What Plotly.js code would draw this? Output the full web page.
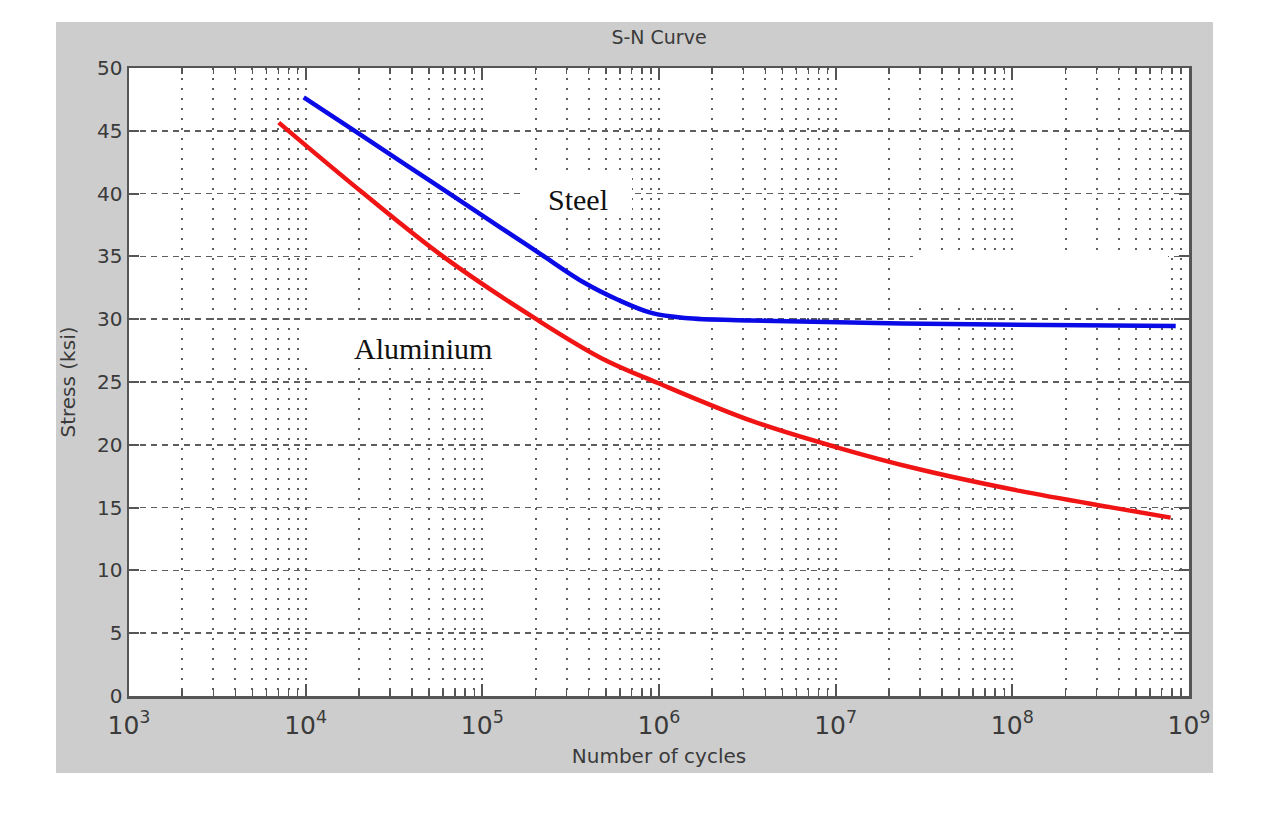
<!DOCTYPE html>
<html>
<head>
<meta charset="utf-8">
<script src="https://cdn.plot.ly/plotly-3.0.1.min.js"></script>
<style>
  html, body { margin: 0; padding: 0; background: #ffffff; }
  #plot { position: absolute; left: 56px; top: 22px; width: 1157px; height: 751px; }
</style>
</head>
<body>
<div id="plot"></div>
<script>
// Steel S-N curve (cycles, stress in ksi)
const steelCycles = [9.75e3, 2.05e4, 5.12e4, 1.28e5, 2.15e5, 3.78e5, 5.89e5, 9.06e5, 1.40e6, 3.35e6, 2.38e7, 8.41e8];
const steelStress = [47.66, 44.68, 40.97, 37.26, 35.16, 32.9, 31.53, 30.5, 30.1, 29.9, 29.65, 29.45];

// Aluminium S-N curve
const aluCycles = [7.04e3, 2.13e4, 5.98e4, 2.02e5, 4.72e5, 9.94e5, 3.35e6, 9.91e6, 2.97e7, 1.10e8, 3.69e8, 7.87e8];
const aluStress = [45.65, 40.0, 35.0, 30.0, 26.9, 24.9, 21.9, 19.84, 18.05, 16.33, 15.0, 14.2];

const chartTitle = "S-N Curve";
const xTitle = "Number of cycles";
const yTitle = "Stress (ksi)";
const labelSteel = "Steel";
const labelAlu = "Aluminium";

const axisColor = '#555555';
const gridColor = '#5e5e5e';
const textColor = '#3a3a3a';
const uiFont = 'DejaVu Sans, Verdana, sans-serif';

const traces = [
  { x: steelCycles, y: steelStress, type: 'scatter', mode: 'lines', name: labelSteel,
    line: { color: '#0a0ae6', width: 4.5, shape: 'spline', smoothing: 1 }, hoverinfo: 'skip' },
  { x: aluCycles, y: aluStress, type: 'scatter', mode: 'lines', name: labelAlu,
    line: { color: '#f01414', width: 4.5, shape: 'spline', smoothing: 1 }, hoverinfo: 'skip' }
];

const layout = {
  width: 1157, height: 751,
  paper_bgcolor: '#cdcdcd',
  plot_bgcolor: '#ffffff',
  showlegend: false,
  margin: { l: 73, r: 24, t: 46, b: 77, pad: 0 },
  font: { family: uiFont, size: 20, color: textColor },
  title: { text: chartTitle, x: 0.5, xref: 'paper', y: 0.979, yref: 'container', yanchor: 'middle',
           font: { size: 19, color: textColor, family: uiFont } },
  xaxis: {
    type: 'log', range: [3, 9], dtick: 1, exponentformat: 'power',
    showline: true, linecolor: axisColor, linewidth: 2.5, mirror: 'ticks',
    ticks: 'inside', ticklen: 12, tickwidth: 2, tickcolor: axisColor,
    showgrid: true, gridcolor: gridColor, gridwidth: 2, griddash: '2px,8px',
    zeroline: false, ticklabelstandoff: 6,
    tickfont: { size: 20, color: textColor, family: uiFont },
    minor: { ticks: 'inside', ticklen: 6, tickwidth: 1.5, tickcolor: axisColor, showgrid: true,
             gridcolor: gridColor, gridwidth: 2, griddash: '2px,8px', dtick: 'D1' },
    title: { text: xTitle, standoff: 11, font: { size: 20, color: textColor, family: uiFont } }
  },
  yaxis: {
    range: [0, 50], dtick: 5,
    showline: true, linecolor: axisColor, linewidth: 2.5, mirror: 'ticks',
    ticks: 'inside', ticklen: 10, tickwidth: 2, tickcolor: axisColor,
    showgrid: true, gridcolor: gridColor, gridwidth: 1.5, griddash: '6px,5px',
    zeroline: false,
    tickfont: { size: 20, color: textColor, family: uiFont },
    title: { text: yTitle, standoff: 16, font: { size: 20, color: textColor, family: uiFont } }
  },
  shapes: [
    { type: 'rect', xref: 'paper', yref: 'paper', x0: 0.3736, x1: 0.4745, y0: 0.761, y1: 0.8376,
      fillcolor: '#ffffff', line: { width: 0 }, layer: 'above' },
    { type: 'rect', xref: 'paper', yref: 'paper', x0: 0.1613, x1: 0.3764, y0: 0.5223, y1: 0.5955,
      fillcolor: '#ffffff', line: { width: 0 }, layer: 'above' },
    { type: 'rect', xref: 'paper', yref: 'paper', x0: 0.7396, x1: 0.9802, y0: 0.6274, y1: 0.7038,
      fillcolor: '#ffffff', line: { width: 0 }, layer: 'above' }
  ],
  annotations: [
    { text: labelSteel, xref: 'paper', yref: 'paper', x: 0.424, y: 0.790, showarrow: false,
      xanchor: 'center', yanchor: 'middle',
      font: { family: 'Liberation Serif, Times New Roman, serif', size: 30, color: '#111111' } },
    { text: labelAlu, xref: 'paper', yref: 'paper', x: 0.277, y: 0.554, showarrow: false,
      xanchor: 'center', yanchor: 'middle',
      font: { family: 'Liberation Serif, Times New Roman, serif', size: 30, color: '#111111' } }
  ]
};

Plotly.newPlot('plot', traces, layout, { displayModeBar: false, staticPlot: true });
</script>
</body>
</html>
